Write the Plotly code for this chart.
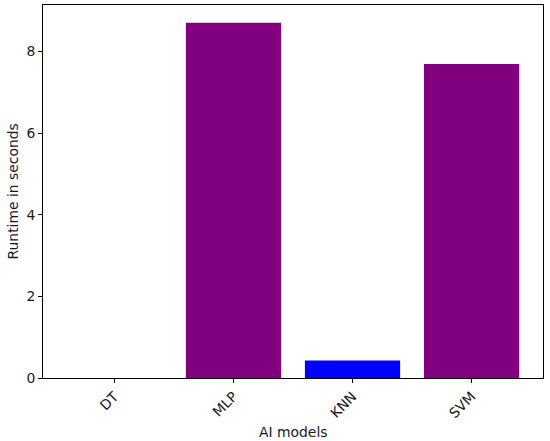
import plotly.graph_objects as go

models = ["DT", "MLP", "KNN", "SVM"]
runtimes = [0.0, 8.70, 0.43, 7.69]
colors = ["#800080", "#800080", "#0000ff", "#800080"]
x_title = "AI models"
y_title = "Runtime in seconds"

fig = go.Figure(go.Bar(
    x=list(range(len(models))), y=runtimes, width=0.8,
    marker=dict(color=colors, line=dict(width=0)),
))

font = dict(family="DejaVu Sans", size=13.9, color="#1a1a1a")
fig.update_layout(
    width=550, height=441,
    margin=dict(l=43, r=7, t=5, b=63),
    paper_bgcolor="white", plot_bgcolor="white",
    font=font, showlegend=False,
    xaxis=dict(
        tickmode="array", tickvals=list(range(len(models))), ticktext=models,
        range=[-0.6, 3.6], tickangle=-45, automargin=False,
        ticks="outside", ticklen=4, tickcolor="black",
        showline=True, linecolor="black", linewidth=1, mirror=True,
        showgrid=False, zeroline=False,
    ),
    yaxis=dict(
        range=[0, 9.135], tickvals=[0, 2, 4, 6, 8], automargin=False,
        ticks="outside", ticklen=4, tickcolor="black",
        showline=True, linecolor="black", linewidth=1, mirror=True,
        showgrid=False, zeroline=False,
    ),
    annotations=[
        dict(text=x_title, xref="paper", yref="paper", x=0.5, y=0,
             yshift=-54, showarrow=False, xanchor="center", yanchor="middle", font=font),
        dict(text=y_title, xref="paper", yref="paper", x=0, y=0.5,
             xshift=-31, textangle=-90, showarrow=False, xanchor="center", yanchor="middle", font=font),
    ],
)
fig.write_html("out.html", config={"displayModeBar": False},
               post_script="document.body.style.margin='0';")
